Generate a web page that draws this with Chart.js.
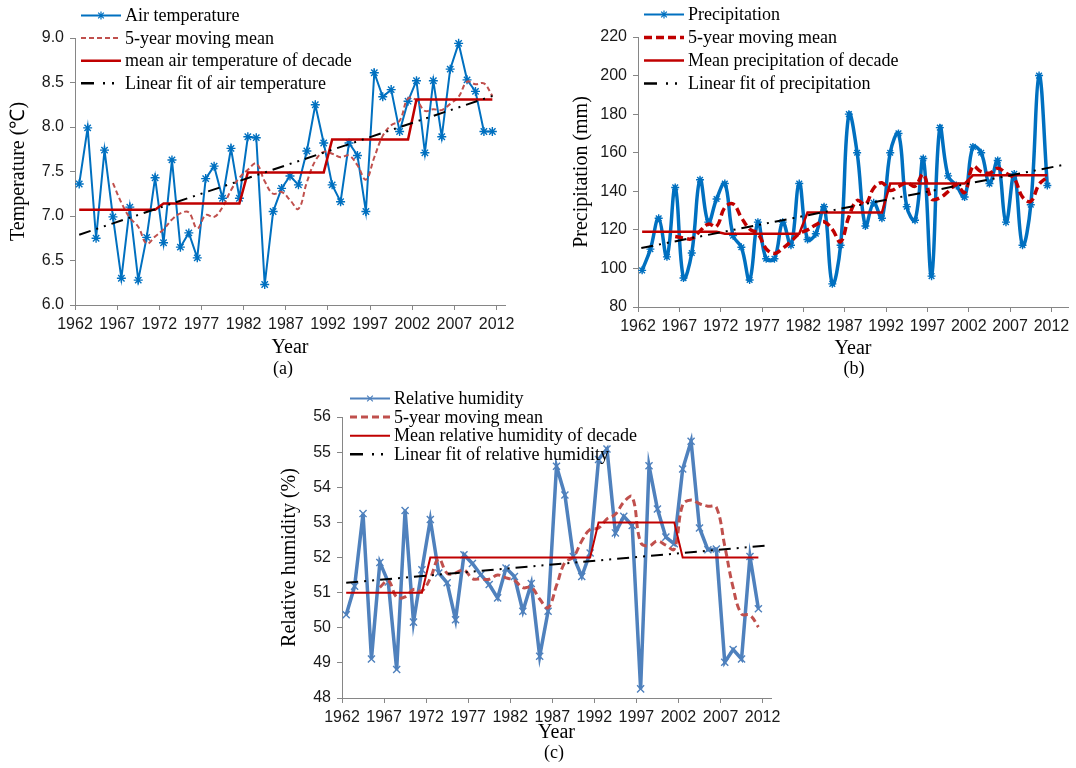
<!DOCTYPE html>
<html>
<head>
<meta charset="utf-8">
<title>Air temperature, precipitation and relative humidity, 1962-2011</title>
<script src="https://cdn.jsdelivr.net/npm/chart.js@4.4.1/dist/chart.umd.min.js"></script>
<style>
  html, body { margin: 0; padding: 0; background: #fff; }
  body { position: relative; width: 1076px; height: 768px; overflow: hidden; }
  .panel { position: absolute; }
</style>
</head>
<body>
<div class="panel" style="left:0;top:0;width:530px;height:380px"><canvas id="chartA" width="530" height="380"></canvas></div>
<div class="panel" style="left:540px;top:0;width:536px;height:380px"><canvas id="chartB" width="536" height="380"></canvas></div>
<div class="panel" style="left:270px;top:380px;width:530px;height:388px"><canvas id="chartC" width="530" height="388"></canvas></div>
<script>
// years of observation (one value per year)
const years = [1962, 1963, 1964, 1965, 1966, 1967, 1968, 1969, 1970, 1971,
  1972, 1973, 1974, 1975, 1976, 1977, 1978, 1979, 1980, 1981,
  1982, 1983, 1984, 1985, 1986, 1987, 1988, 1989, 1990, 1991,
  1992, 1993, 1994, 1995, 1996, 1997, 1998, 1999, 2000, 2001,
  2002, 2003, 2004, 2005, 2006, 2007, 2008, 2009, 2010, 2011];
const tickYears = [1962, 1967, 1972, 1977, 1982, 1987, 1992, 1997, 2002, 2007, 2012];

// (a) air temperature, deg C
const airTemp = [7.36, 7.99, 6.75, 7.74, 6.99, 6.30, 7.10, 6.28, 6.76, 7.43,
  6.70, 7.63, 6.65, 6.81, 6.53, 7.42, 7.56, 7.20, 7.76, 7.20,
  7.89, 7.88, 6.23, 7.05, 7.31, 7.45, 7.35, 7.73, 8.25, 7.82,
  7.35, 7.16, 7.82, 7.68, 7.05, 8.61, 8.34, 8.42, 7.95, 8.29,
  8.52, 7.71, 8.52, 7.89, 8.65, 8.94, 8.53, 8.40, 7.95, 7.95];
// 5-year moving mean, from 1966 on
const airTempMean5 = [7.37, 7.15, 6.98, 6.88, 6.69, 6.77, 6.85, 6.96, 7.03, 7.04,
  6.86, 7.01, 6.99, 7.10, 7.29, 7.43, 7.52, 7.59, 7.39, 7.25,
  7.27, 7.18, 7.08, 7.38, 7.62, 7.72, 7.70, 7.66, 7.68, 7.57,
  7.41, 7.66, 7.90, 8.02, 8.07, 8.32, 8.30, 8.18, 8.20, 8.19,
  8.26, 8.34, 8.51, 8.48, 8.49, 8.35];
const airTempDecade = [7.07, 7.14, 7.49, 7.86, 8.31];
const airTempFitX = [1962.5, 2012.2];
const airTempFitY = [6.79, 8.37];

// (b) precipitation, mm
const precip = [99, 110, 126, 106, 142, 95, 108, 146, 124, 136,
  144, 117, 111, 94, 124, 105, 105, 124, 112, 144,
  115, 118, 132, 92, 112, 180, 160, 122, 134, 126,
  160, 170, 132, 125, 157, 96, 173, 148, 143, 137,
  163, 160, 144, 156, 124, 149, 112, 133, 200, 143];
const precipMean5 = [116.6, 115.8, 115.4, 119.4, 123.0, 121.8, 131.6, 133.4, 126.4, 120.4,
  118.0, 110.2, 107.8, 110.4, 114.0, 118.0, 120.0, 122.6, 124.2, 120.2,
  113.8, 126.8, 135.2, 133.2, 141.6, 144.4, 140.4, 142.4, 144.4, 142.6,
  148.8, 136.0, 136.6, 139.8, 143.4, 139.4, 152.8, 150.2, 149.4, 152.0,
  149.4, 146.6, 137.0, 134.8, 143.6, 147.4];
const precipDecade = [119.0, 118.0, 129.0, 144.0, 148.3];
const precipFitX = [1962.4, 2013.6];
const precipFitY = [110.6, 153.8];

// (c) relative humidity, %
const humidity = [50.37, 51.18, 53.25, 49.11, 51.86, 51.30, 48.81, 53.34, 50.16, 51.65,
  53.08, 51.56, 51.28, 50.23, 52.08, 51.83, 51.51, 51.23, 50.85, 51.70,
  51.46, 50.47, 51.26, 49.19, 50.47, 54.60, 53.78, 52.03, 51.46, 52.13,
  54.79, 55.09, 52.70, 53.17, 52.91, 48.26, 54.61, 53.38, 52.58, 52.39,
  54.52, 55.31, 52.84, 52.22, 52.24, 49.02, 49.38, 49.11, 52.03, 50.54];
const humidityMean5 = [51.15, 51.34, 50.87, 50.88, 51.09, 51.05, 51.41, 51.96, 51.55, 51.56,
  51.65, 51.40, 51.39, 51.38, 51.50, 51.42, 51.35, 51.14, 51.15, 50.82,
  50.57, 51.20, 51.86, 52.01, 52.47, 52.80, 52.84, 53.10, 53.23, 53.58,
  53.73, 52.43, 52.33, 52.47, 52.35, 52.24, 53.50, 53.64, 53.53, 53.46,
  53.43, 52.33, 51.14, 50.39, 50.36, 50.02];
const humidityDecade = [51, 52, 52, 53, 52];
const humidityFitX = [1962.5, 2012.5];
const humidityFitY = [51.28, 52.34];

const SERIF = 'Liberation Serif';
const AXIS = '#868686';
Chart.defaults.font.family = 'Liberation Sans';
Chart.defaults.font.size = 16;
Chart.defaults.color = '#1a1a1a';

function drawMarker(ctx, style, x, y, r, color, lw) {
  const d = r * Math.SQRT1_2;
  ctx.save();
  ctx.setLineDash([]);
  ctx.strokeStyle = color;
  ctx.lineWidth = lw;
  ctx.beginPath();
  if (style !== 'crossRot') {
    ctx.moveTo(x, y - r); ctx.lineTo(x, y + r);
    ctx.moveTo(x - r, y); ctx.lineTo(x + r, y);
  }
  ctx.moveTo(x - d, y - d); ctx.lineTo(x + d, y + d);
  ctx.moveTo(x - d, y + d); ctx.lineTo(x + d, y - d);
  ctx.stroke();
  ctx.restore();
}

// legend drawn over the plot, like the original figure, plus the panel letter
const figureLegend = {
  id: 'figureLegend',
  afterDraw(chart, args, o) {
    const ctx = chart.ctx;
    ctx.save();
    o.items.forEach((it, k) => {
      const y = o.y + k * o.rowGap;
      ctx.strokeStyle = it.color;
      ctx.lineWidth = it.width;
      ctx.setLineDash(it.dash || []);
      ctx.beginPath();
      ctx.moveTo(o.x, y);
      ctx.lineTo(o.x + o.sample, y);
      ctx.stroke();
      if (it.marker) drawMarker(ctx, it.marker, o.x + o.sample / 2, y, it.radius, it.color, 1.2);
      ctx.setLineDash([]);
      ctx.fillStyle = '#000';
      ctx.font = o.font;
      ctx.textAlign = 'left';
      ctx.textBaseline = 'middle';
      ctx.fillText(it.label, o.x + o.sample + o.gap, y + 1);
    });
    ctx.font = o.font;
    ctx.textAlign = 'center';
    ctx.fillText(o.caption, o.captionX, o.captionY);
    ctx.restore();
  }
};

function makeChart(id, p) {
  const st = p.styles;
  const obsPts = years.map((yr, i) => ({ x: yr + 0.5, y: p.obs[i] }));
  const meanPts = years.slice(4).map((yr, i) => ({ x: yr + 0.5, y: p.mean5[i] }));
  const decadePts = years.map((yr, i) => ({ x: yr + 0.5, y: p.decade[Math.floor(i / 10)] }));
  const fitPts = p.fitX.map((x, i) => ({ x: x, y: p.fitY[i] }));

  const items = [
    { label: p.labels[0], color: st.obs.color, width: 2, marker: st.obs.marker, radius: 4 },
    { label: p.labels[1], color: st.mean.color, width: st.mean.width, dash: st.mean.dash },
    { label: p.labels[2], color: st.decade.color, width: st.decade.width },
    { label: p.labels[3], color: '#000', width: 2.5, dash: [13, 9, 2, 7, 2, 7] }
  ];

  return new Chart(document.getElementById(id), {
    type: 'line',
    data: {
      datasets: [
        { label: p.labels[0], data: obsPts, order: 4, borderColor: st.obs.color, borderWidth: st.obs.width,
          tension: st.obs.tension, pointStyle: st.obs.marker, pointRadius: st.obs.radius,
          pointBorderWidth: 1.4, pointBorderColor: st.obs.color, pointBackgroundColor: st.obs.color },
        { label: p.labels[1], data: meanPts, order: 3, borderColor: st.mean.color, borderWidth: st.mean.width,
          borderDash: st.mean.dash, tension: 0.4, pointRadius: 0 },
        { label: p.labels[2], data: decadePts, order: 2, borderColor: st.decade.color, borderWidth: st.decade.width,
          tension: 0, pointRadius: 0 },
        { label: p.labels[3], data: fitPts, order: 1, borderColor: '#000', borderWidth: 2,
          borderDash: [12, 6, 2, 6, 2, 6], pointRadius: 0 }
      ]
    },
    plugins: [figureLegend],
    options: {
      responsive: false,
      animation: false,
      events: [],
      layout: { padding: p.padding },
      plugins: {
        legend: { display: false },
        tooltip: { enabled: false },
        figureLegend: {
          items: items, x: p.legend.x, y: p.legend.y, rowGap: p.legend.gap, sample: 40, gap: 4,
          font: '18px "Liberation Serif"', caption: p.caption, captionX: p.captionX, captionY: p.captionY
        }
      },
      scales: {
        x: {
          type: 'linear', min: 1962, max: p.xMax,
          afterBuildTicks: s => { s.ticks = tickYears.map(v => ({ value: v })); },
          afterFit: s => { s.height = p.xHeight; s.paddingLeft = 0; s.paddingRight = 0; },
          grid: { drawOnChartArea: false, color: AXIS, tickLength: 5 },
          border: { color: AXIS },
          ticks: { autoSkip: false, maxRotation: 0, padding: 5, callback: v => String(v) },
          title: { display: true, text: 'Year', color: '#000', padding: 0, font: { family: SERIF, size: 20 } }
        },
        y: {
          min: p.yMin, max: p.yMax,
          afterFit: s => { s.width = p.yWidth; s.paddingTop = 0; s.paddingBottom = 0; },
          grid: { drawOnChartArea: false, color: AXIS, tickLength: 5 },
          border: { color: AXIS },
          ticks: { stepSize: p.yStep, padding: 6, callback: v => p.yFormat(v) },
          title: { display: true, text: p.yTitle, color: '#000', padding: 0, font: { family: SERIF, size: 20 } }
        }
      }
    }
  });
}

makeChart('chartA', {
  obs: airTemp, mean5: airTempMean5, decade: airTempDecade, fitX: airTempFitX, fitY: airTempFitY,
  labels: ['Air temperature', '5-year moving mean', 'mean air temperature of decade', 'Linear fit of air temperature'],
  styles: {
    obs: { color: '#0070C0', width: 2, tension: 0, marker: 'star', radius: 4.5 },
    mean: { color: '#C0504D', width: 2, dash: [5, 3] },
    decade: { color: '#C00000', width: 2.5 }
  },
  yMin: 6, yMax: 9, yStep: 0.5, yFormat: v => v.toFixed(1), yTitle: 'Temperature (\u2103)',
  xMax: 2013, padding: { left: 7, right: 25, top: 38, bottom: 20 }, yWidth: 68, xHeight: 55,
  legend: { x: 81, y: 15.5, gap: 22.6 }, caption: '(a)', captionX: 283, captionY: 369
});

makeChart('chartB', {
  obs: precip, mean5: precipMean5, decade: precipDecade, fitX: precipFitX, fitY: precipFitY,
  labels: ['Precipitation', '5-year moving mean', 'Mean precipitation of decade', 'Linear fit of precipitation'],
  styles: {
    obs: { color: '#0070C0', width: 3.5, tension: 0.4, marker: 'star', radius: 4 },
    mean: { color: '#C00000', width: 3.5, dash: [8, 4] },
    decade: { color: '#C00000', width: 2.5 }
  },
  yMin: 80, yMax: 220, yStep: 20, yFormat: v => String(v), yTitle: 'Precipitation (mm)',
  xMax: 2014, padding: { left: 30, right: 8, top: 37, bottom: 19 }, yWidth: 68, xHeight: 54,
  legend: { x: 104, y: 14.5, gap: 23 }, caption: '(b)', captionX: 314, captionY: 369
});

makeChart('chartC', {
  obs: humidity, mean5: humidityMean5, decade: humidityDecade, fitX: humidityFitX, fitY: humidityFitY,
  labels: ['Relative humidity', '5-year moving mean', 'Mean relative humidity of decade', 'Linear fit of relative humidity'],
  styles: {
    obs: { color: '#4F81BD', width: 3.5, tension: 0, marker: 'crossRot', radius: 5 },
    mean: { color: '#C0504D', width: 3, dash: [7, 4] },
    decade: { color: '#C00000', width: 2 }
  },
  yMin: 48, yMax: 56, yStep: 1, yFormat: v => String(v), yTitle: 'Relative humidity (%)',
  xMax: 2013, padding: { left: 8, right: 29, top: 37, bottom: 23 }, yWidth: 64, xHeight: 47,
  legend: { x: 80, y: 18.5, gap: 18.6 }, caption: '(c)', captionX: 284, captionY: 373
});
</script>
</body>
</html>
